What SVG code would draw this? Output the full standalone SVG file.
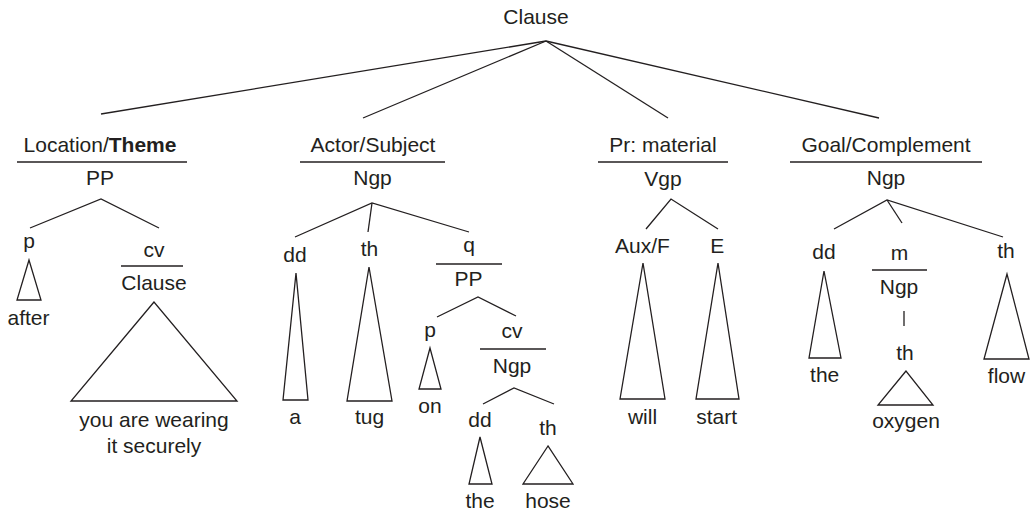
<svg xmlns="http://www.w3.org/2000/svg" width="1030" height="511" viewBox="0 0 1030 511">
<style>
text{font-family:"Liberation Sans",Arial,sans-serif;font-size:21px;fill:#231f20;text-anchor:middle}
.b{font-weight:bold}
line,polygon,polyline{stroke:#231f20;stroke-width:1.3;fill:none}
</style>
<rect width="1030" height="511" fill="#fff"/>
<g id="connectors">
<line x1="546" y1="41" x2="101" y2="114"/>
<line x1="546" y1="41" x2="363" y2="118"/>
<line x1="546" y1="41" x2="668" y2="118"/>
<line x1="546" y1="41" x2="879" y2="118"/>
<polyline points="30,228 101,199 159,228"/>
<polyline points="295,237 372,203 469,232"/>
<line x1="372" y1="203" x2="368" y2="232"/>
<polyline points="437,317 478,297 516,316"/>
<polyline points="483,404 514,388 554,404"/>
<polyline points="646,229 671,199 718,229"/>
<polyline points="834,229 887,200 1003,237"/>
<line x1="887" y1="200" x2="902" y2="223"/>
<line x1="904" y1="311" x2="904" y2="326"/>
</g>
<g id="clause"><text x="536" y="24">Clause</text></g>
<g id="location">
<text x="100" y="152">Location/<tspan class="b">Theme</tspan></text>
<line x1="17" y1="162" x2="187" y2="162"/>
<text x="100" y="185">PP</text>
</g>
<g id="p1">
<text x="29" y="248">p</text>
<polygon points="29,260 17,300 41,300"/>
<text x="28.5" y="325">after</text>
</g>
<g id="cv1">
<text x="154" y="257">cv</text>
<line x1="121" y1="266" x2="183" y2="266"/>
<text x="154" y="290">Clause</text>
<polygon points="154,302 71,401 237,401"/>
<text x="154" y="427">you are wearing</text>
<text x="154" y="453">it securely</text>
</g>
<g id="actor">
<text x="373" y="152">Actor/Subject</text>
<line x1="300" y1="162" x2="445" y2="162"/>
<text x="372.5" y="185">Ngp</text>
</g>
<g id="dd1">
<text x="295" y="262">dd</text>
<polygon points="296,273 283,400 308,400"/>
<text x="295" y="424">a</text>
</g>
<g id="th1">
<text x="369.5" y="256">th</text>
<polygon points="369,267 347,401 392,401"/>
<text x="369.5" y="424">tug</text>
</g>
<g id="q">
<text x="469" y="252">q</text>
<line x1="436" y1="264" x2="502" y2="264"/>
<text x="468.5" y="286">PP</text>
</g>
<g id="p2">
<text x="430" y="337">p</text>
<polygon points="430,348 419,389 441,389"/>
<text x="430" y="413">on</text>
</g>
<g id="cv2">
<text x="512" y="338">cv</text>
<line x1="480" y1="349" x2="546" y2="349"/>
<text x="512" y="373">Ngp</text>
</g>
<g id="dd2">
<text x="480" y="427">dd</text>
<polygon points="480,437 469,484 492,484"/>
<text x="480" y="508">the</text>
</g>
<g id="th2">
<text x="548" y="435">th</text>
<polygon points="548,446 523,484 573,484"/>
<text x="548" y="508">hose</text>
</g>
<g id="pr">
<text x="663" y="152">Pr: material</text>
<line x1="598" y1="162" x2="728" y2="162"/>
<text x="663" y="186">Vgp</text>
</g>
<g id="aux">
<text x="642.5" y="253">Aux/F</text>
<polygon points="643,263 620,399 665,399"/>
<text x="642.5" y="424">will</text>
</g>
<g id="e">
<text x="717.3" y="253">E</text>
<polygon points="718,263 696,399 739,399"/>
<text x="716.7" y="424">start</text>
</g>
<g id="goal">
<text x="886" y="152">Goal/Complement</text>
<line x1="790" y1="162" x2="982" y2="162"/>
<text x="886" y="185">Ngp</text>
</g>
<g id="dd3">
<text x="824" y="259">dd</text>
<polygon points="824,271 809,358 841,358"/>
<text x="824.7" y="382">the</text>
</g>
<g id="m">
<text x="899.5" y="260">m</text>
<line x1="872" y1="270" x2="927" y2="270"/>
<text x="899" y="294">Ngp</text>
</g>
<g id="th3">
<text x="905" y="360">th</text>
<polygon points="906,371 878,405 933,405"/>
<text x="906" y="428">oxygen</text>
</g>
<g id="th4">
<text x="1006" y="258">th</text>
<polygon points="1007,274 984,359 1029,359"/>
<text x="1006.5" y="383">flow</text>
</g>
</svg>
